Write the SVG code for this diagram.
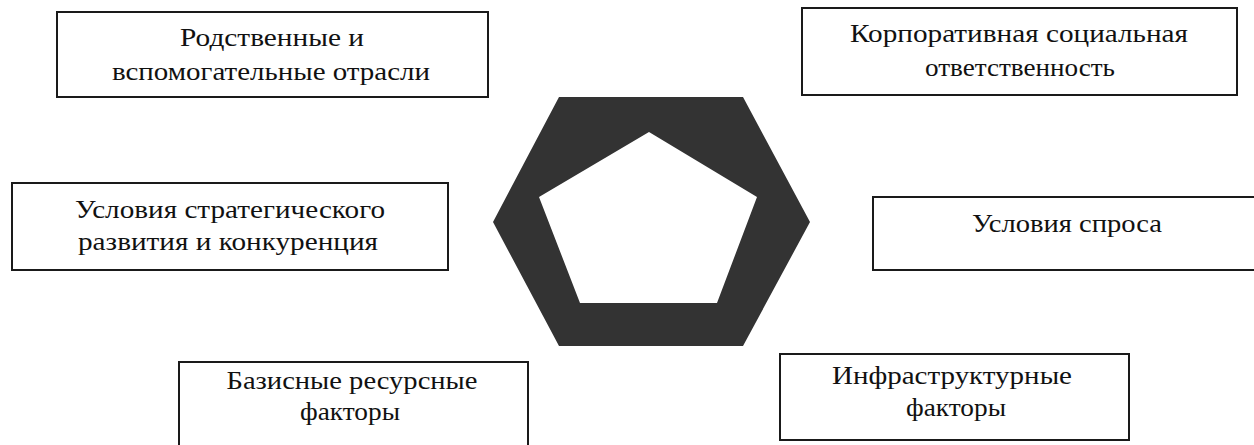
<svg xmlns="http://www.w3.org/2000/svg" width="1254" height="445" viewBox="0 0 1254 445">
<style>
.box{fill:#fff;stroke:#1a1a1a;stroke-width:2}
.t{font-family:"Liberation Serif","DejaVu Serif",serif;font-size:25px;fill:#111;text-anchor:middle}
</style>
<rect width="1254" height="445" fill="#fff"/>
<g id="center">
<path d="M559,97 L743,97 L810,222 L743,346 L559,346 L493,222 Z M649,132 L539,197 L580,303 L717,303 L757,197 Z" fill="#333" fill-rule="evenodd"/>
</g>
<g id="connectors"></g>
<g id="n1">
<rect class="box" x="57" y="12" width="431" height="85"/>
<text class="t" x="272" y="46" textLength="184" lengthAdjust="spacingAndGlyphs">Родственные и</text>
<text class="t" x="271" y="80" textLength="318" lengthAdjust="spacingAndGlyphs">вспомогательные отрасли</text>
</g>
<g id="n2">
<rect class="box" x="802" y="8" width="435" height="87"/>
<text class="t" x="1019" y="42" textLength="338" lengthAdjust="spacingAndGlyphs">Корпоративная социальная</text>
<text class="t" x="1020" y="76" textLength="190" lengthAdjust="spacingAndGlyphs">ответственность</text>
</g>
<g id="n3">
<rect class="box" x="12" y="183" width="436" height="87"/>
<text class="t" x="230" y="218" textLength="310" lengthAdjust="spacingAndGlyphs">Условия стратегического</text>
<text class="t" x="228" y="250" textLength="300" lengthAdjust="spacingAndGlyphs">развития и конкуренция</text>
</g>
<g id="n4">
<rect class="box" x="873" y="197" width="390" height="73"/>
<text class="t" x="1067" y="232" textLength="190" lengthAdjust="spacingAndGlyphs">Условия спроса</text>
</g>
<g id="n5">
<rect class="box" x="179" y="362" width="349" height="95"/>
<text class="t" x="352" y="389" textLength="251" lengthAdjust="spacingAndGlyphs">Базисные ресурсные</text>
<text class="t" x="350" y="420" textLength="100" lengthAdjust="spacingAndGlyphs">факторы</text>
</g>
<g id="n6">
<rect class="box" x="780" y="354" width="349" height="86"/>
<text class="t" x="952" y="384" textLength="240" lengthAdjust="spacingAndGlyphs">Инфраструктурные</text>
<text class="t" x="956" y="416" textLength="100" lengthAdjust="spacingAndGlyphs">факторы</text>
</g>
</svg>
